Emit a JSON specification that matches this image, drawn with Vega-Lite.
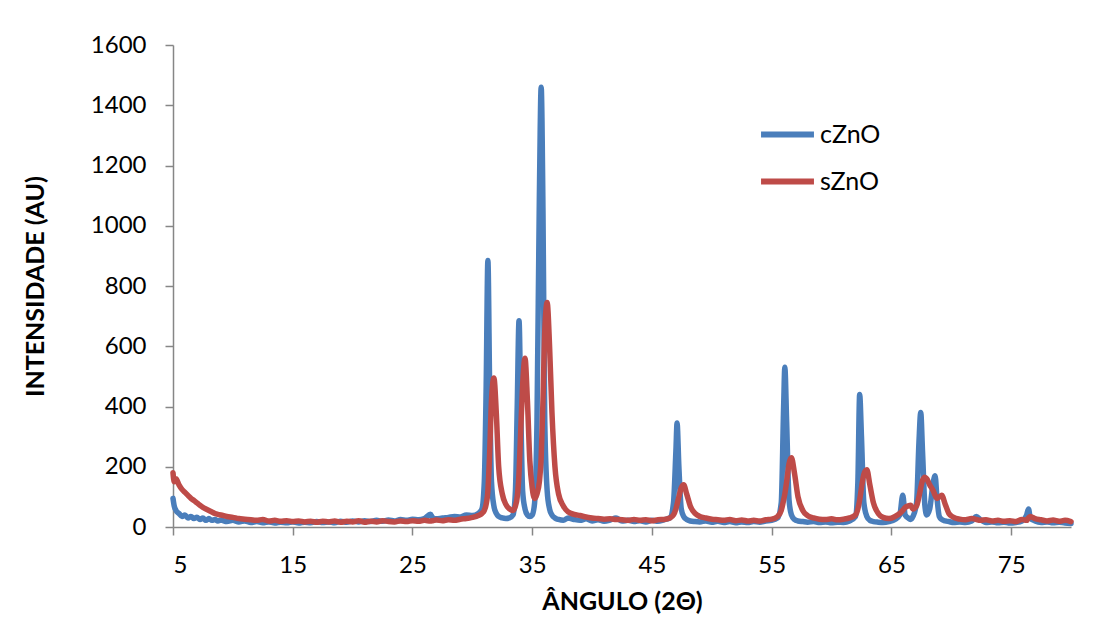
{
"$schema": "https://vega.github.io/schema/vega-lite/v6.json",
"autosize": "none",
"width": 898,
"height": 482,
"padding": {"left": 173, "top": 45, "right": 32, "bottom": 97},
"background": "white",
"config": {"view": {"stroke": null}, "font": "Lato"},
"data": {"values": [
{"x":5.0,"cZnO":95,"sZnO":180},{"x":5.1,"cZnO":70,"sZnO":150},{"x":5.25,"cZnO":55,"sZnO":160},{"x":5.5,"cZnO":45,"sZnO":140},{"x":5.75,"cZnO":35,"sZnO":125},{"x":6.0,"cZnO":40,"sZnO":115},{"x":6.25,"cZnO":30,"sZnO":105},{"x":6.5,"cZnO":35,"sZnO":95},{"x":6.75,"cZnO":28,"sZnO":88},{"x":7.0,"cZnO":32,"sZnO":80},{"x":7.25,"cZnO":25,"sZnO":72},{"x":7.5,"cZnO":30,"sZnO":65},{"x":7.75,"cZnO":22,"sZnO":60},{"x":8.0,"cZnO":28,"sZnO":55},{"x":8.25,"cZnO":22,"sZnO":50},{"x":8.5,"cZnO":25,"sZnO":45},{"x":8.75,"cZnO":20,"sZnO":42},{"x":9.0,"cZnO":23,"sZnO":40},{"x":9.5,"cZnO":18,"sZnO":35},{"x":10.0,"cZnO":22,"sZnO":32},{"x":10.5,"cZnO":17,"sZnO":28},{"x":11,"cZnO":20,"sZnO":26},{"x":11.5,"cZnO":15,"sZnO":24},{"x":12,"cZnO":18,"sZnO":22},{"x":12.5,"cZnO":14,"sZnO":25},{"x":13,"cZnO":17,"sZnO":20},{"x":13.5,"cZnO":13,"sZnO":22},{"x":14,"cZnO":16,"sZnO":19},{"x":14.5,"cZnO":14,"sZnO":21},{"x":15,"cZnO":17,"sZnO":18},{"x":15.5,"cZnO":13,"sZnO":20},{"x":16,"cZnO":16,"sZnO":17},{"x":16.5,"cZnO":14,"sZnO":19},{"x":17,"cZnO":18,"sZnO":16},{"x":17.5,"cZnO":15,"sZnO":19},{"x":18,"cZnO":17,"sZnO":17},{"x":18.5,"cZnO":14,"sZnO":20},{"x":19,"cZnO":19,"sZnO":16},{"x":19.5,"cZnO":16,"sZnO":19},{"x":20,"cZnO":20,"sZnO":17},{"x":20.5,"cZnO":17,"sZnO":21},{"x":21,"cZnO":21,"sZnO":16},{"x":21.5,"cZnO":18,"sZnO":19},{"x":22,"cZnO":22,"sZnO":17},{"x":22.5,"cZnO":19,"sZnO":21},{"x":23,"cZnO":23,"sZnO":18},{"x":23.5,"cZnO":20,"sZnO":17},{"x":24,"cZnO":25,"sZnO":20},{"x":24.5,"cZnO":22,"sZnO":18},{"x":25,"cZnO":26,"sZnO":21},{"x":25.5,"cZnO":24,"sZnO":19},{"x":26,"cZnO":28,"sZnO":22},{"x":26.5,"cZnO":42,"sZnO":20},{"x":26.7,"cZnO":30,"sZnO":21},{"x":27,"cZnO":27,"sZnO":23},{"x":27.5,"cZnO":30,"sZnO":21},{"x":28,"cZnO":32,"sZnO":24},{"x":28.5,"cZnO":35,"sZnO":22},{"x":29,"cZnO":33,"sZnO":26},{"x":29.5,"cZnO":40,"sZnO":28},{"x":30,"cZnO":38,"sZnO":32},{"x":30.5,"cZnO":45,"sZnO":38},{"x":30.8,"cZnO":60,"sZnO":45},{"x":31.0,"cZnO":150,"sZnO":55},{"x":31.15,"cZnO":450,"sZnO":75},{"x":31.3,"cZnO":885,"sZnO":120},{"x":31.45,"cZnO":450,"sZnO":250},{"x":31.6,"cZnO":150,"sZnO":420},{"x":31.8,"cZnO":70,"sZnO":495},{"x":32.0,"cZnO":45,"sZnO":380},{"x":32.2,"cZnO":35,"sZnO":200},{"x":32.5,"cZnO":30,"sZnO":110},{"x":32.8,"cZnO":28,"sZnO":75},{"x":33.1,"cZnO":30,"sZnO":60},{"x":33.4,"cZnO":40,"sZnO":55},{"x":33.6,"cZnO":120,"sZnO":70},{"x":33.75,"cZnO":400,"sZnO":100},{"x":33.9,"cZnO":685,"sZnO":180},{"x":34.05,"cZnO":380,"sZnO":330},{"x":34.2,"cZnO":120,"sZnO":470},{"x":34.4,"cZnO":60,"sZnO":560},{"x":34.6,"cZnO":40,"sZnO":420},{"x":34.8,"cZnO":35,"sZnO":220},{"x":35.0,"cZnO":40,"sZnO":130},{"x":35.2,"cZnO":80,"sZnO":95},{"x":35.4,"cZnO":350,"sZnO":110},{"x":35.6,"cZnO":1100,"sZnO":150},{"x":35.75,"cZnO":1460,"sZnO":230},{"x":35.9,"cZnO":1050,"sZnO":420},{"x":36.05,"cZnO":350,"sZnO":650},{"x":36.25,"cZnO":120,"sZnO":745},{"x":36.45,"cZnO":60,"sZnO":600},{"x":36.65,"cZnO":40,"sZnO":380},{"x":36.9,"cZnO":30,"sZnO":200},{"x":37.2,"cZnO":25,"sZnO":110},{"x":37.6,"cZnO":22,"sZnO":70},{"x":38.0,"cZnO":30,"sZnO":50},{"x":38.5,"cZnO":25,"sZnO":42},{"x":39,"cZnO":22,"sZnO":38},{"x":39.5,"cZnO":27,"sZnO":33},{"x":40,"cZnO":20,"sZnO":30},{"x":40.5,"cZnO":24,"sZnO":28},{"x":41,"cZnO":19,"sZnO":26},{"x":41.5,"cZnO":23,"sZnO":27},{"x":42,"cZnO":30,"sZnO":25},{"x":42.5,"cZnO":20,"sZnO":24},{"x":43,"cZnO":22,"sZnO":22},{"x":43.5,"cZnO":18,"sZnO":25},{"x":44,"cZnO":21,"sZnO":22},{"x":44.5,"cZnO":17,"sZnO":24},{"x":45,"cZnO":22,"sZnO":21},{"x":45.5,"cZnO":19,"sZnO":24},{"x":46,"cZnO":24,"sZnO":25},{"x":46.5,"cZnO":30,"sZnO":30},{"x":46.8,"cZnO":80,"sZnO":40},{"x":47.0,"cZnO":250,"sZnO":60},{"x":47.1,"cZnO":345,"sZnO":75},{"x":47.25,"cZnO":200,"sZnO":100},{"x":47.45,"cZnO":60,"sZnO":130},{"x":47.65,"cZnO":35,"sZnO":140},{"x":47.9,"cZnO":25,"sZnO":110},{"x":48.2,"cZnO":20,"sZnO":70},{"x":48.6,"cZnO":18,"sZnO":45},{"x":49,"cZnO":17,"sZnO":35},{"x":49.5,"cZnO":20,"sZnO":30},{"x":50,"cZnO":16,"sZnO":26},{"x":50.5,"cZnO":19,"sZnO":24},{"x":51,"cZnO":15,"sZnO":22},{"x":51.5,"cZnO":18,"sZnO":25},{"x":52,"cZnO":14,"sZnO":21},{"x":52.5,"cZnO":17,"sZnO":23},{"x":53,"cZnO":15,"sZnO":20},{"x":53.5,"cZnO":18,"sZnO":22},{"x":54,"cZnO":16,"sZnO":20},{"x":54.5,"cZnO":20,"sZnO":24},{"x":55,"cZnO":22,"sZnO":26},{"x":55.5,"cZnO":30,"sZnO":35},{"x":55.8,"cZnO":80,"sZnO":55},{"x":56.0,"cZnO":400,"sZnO":90},{"x":56.1,"cZnO":530,"sZnO":110},{"x":56.25,"cZnO":350,"sZnO":150},{"x":56.45,"cZnO":90,"sZnO":210},{"x":56.65,"cZnO":40,"sZnO":230},{"x":56.9,"cZnO":25,"sZnO":180},{"x":57.2,"cZnO":20,"sZnO":100},{"x":57.6,"cZnO":18,"sZnO":55},{"x":58,"cZnO":16,"sZnO":38},{"x":58.5,"cZnO":18,"sZnO":30},{"x":59,"cZnO":15,"sZnO":26},{"x":59.5,"cZnO":17,"sZnO":25},{"x":60,"cZnO":14,"sZnO":27},{"x":60.5,"cZnO":16,"sZnO":24},{"x":61,"cZnO":15,"sZnO":26},{"x":61.5,"cZnO":20,"sZnO":30},{"x":62.0,"cZnO":35,"sZnO":40},{"x":62.2,"cZnO":150,"sZnO":60},{"x":62.35,"cZnO":440,"sZnO":90},{"x":62.5,"cZnO":300,"sZnO":130},{"x":62.7,"cZnO":80,"sZnO":175},{"x":62.95,"cZnO":35,"sZnO":190},{"x":63.2,"cZnO":22,"sZnO":140},{"x":63.5,"cZnO":18,"sZnO":80},{"x":63.9,"cZnO":16,"sZnO":45},{"x":64.3,"cZnO":15,"sZnO":32},{"x":64.8,"cZnO":18,"sZnO":28},{"x":65.3,"cZnO":25,"sZnO":35},{"x":65.7,"cZnO":40,"sZnO":45},{"x":65.95,"cZnO":105,"sZnO":55},{"x":66.15,"cZnO":40,"sZnO":65},{"x":66.4,"cZnO":30,"sZnO":70},{"x":66.6,"cZnO":25,"sZnO":72},{"x":66.8,"cZnO":35,"sZnO":60},{"x":67.1,"cZnO":80,"sZnO":70},{"x":67.3,"cZnO":280,"sZnO":100},{"x":67.45,"cZnO":380,"sZnO":130},{"x":67.6,"cZnO":250,"sZnO":155},{"x":67.8,"cZnO":70,"sZnO":165},{"x":67.95,"cZnO":40,"sZnO":160},{"x":68.2,"cZnO":60,"sZnO":140},{"x":68.5,"cZnO":150,"sZnO":120},{"x":68.65,"cZnO":170,"sZnO":105},{"x":68.8,"cZnO":100,"sZnO":95},{"x":69.0,"cZnO":35,"sZnO":100},{"x":69.2,"cZnO":25,"sZnO":105},{"x":69.5,"cZnO":20,"sZnO":75},{"x":69.8,"cZnO":18,"sZnO":45},{"x":70.2,"cZnO":15,"sZnO":32},{"x":70.7,"cZnO":17,"sZnO":26},{"x":71.2,"cZnO":15,"sZnO":24},{"x":71.7,"cZnO":20,"sZnO":28},{"x":72.1,"cZnO":35,"sZnO":25},{"x":72.4,"cZnO":25,"sZnO":22},{"x":72.9,"cZnO":15,"sZnO":24},{"x":73.4,"cZnO":17,"sZnO":20},{"x":73.9,"cZnO":14,"sZnO":22},{"x":74.4,"cZnO":16,"sZnO":19},{"x":74.9,"cZnO":13,"sZnO":21},{"x":75.4,"cZnO":15,"sZnO":18},{"x":75.9,"cZnO":20,"sZnO":25},{"x":76.3,"cZnO":40,"sZnO":22},{"x":76.45,"cZnO":60,"sZnO":30},{"x":76.6,"cZnO":30,"sZnO":35},{"x":77,"cZnO":20,"sZnO":28},{"x":77.5,"cZnO":15,"sZnO":24},{"x":78,"cZnO":17,"sZnO":20},{"x":78.5,"cZnO":14,"sZnO":23},{"x":79,"cZnO":16,"sZnO":19},{"x":79.5,"cZnO":13,"sZnO":22},{"x":80,"cZnO":12,"sZnO":18}
]},
"transform": [{"fold": ["cZnO", "sZnO"], "as": ["series", "intensity"]}],
"mark": {"type": "line", "strokeWidth": 5.5, "strokeCap": "round", "strokeJoin": "round", "interpolate": "monotone"},
"encoding": {
  "x": {"field": "x", "type": "quantitative",
    "scale": {"domain": [5, 80], "nice": false, "zero": false},
    "axis": {"title": "ÂNGULO (2Θ)", "values": [5, 15, 25, 35, 45, 55, 65, 75], "grid": false,
      "domainColor": "#868686", "tickColor": "#868686", "tickSize": 8, "domainWidth": 1.5, "tickWidth": 1.5,
      "labelFont": "Lato", "labelFontSize": 24, "labelColor": "#000000", "labelPadding": 18,
      "titleFont": "Lato", "titleFontSize": 25, "titleFontWeight": "bold", "titleColor": "#000000", "titlePadding": 12}},
  "y": {"field": "intensity", "type": "quantitative",
    "scale": {"domain": [0, 1600], "nice": false},
    "axis": {"title": "INTENSIDADE (AU)", "values": [0, 200, 400, 600, 800, 1000, 1200, 1400, 1600], "grid": false, "format": "d",
      "domainColor": "#868686", "tickColor": "#868686", "tickSize": 8, "domainWidth": 1.5, "tickWidth": 1.5,
      "labelFont": "Lato", "labelFontSize": 24, "labelColor": "#000000", "labelPadding": 19,
      "titleFont": "Lato", "titleFontSize": 25, "titleFontWeight": "bold", "titleColor": "#000000", "titlePadding": 42}},
  "color": {"field": "series", "type": "nominal",
    "scale": {"domain": ["cZnO", "sZnO"], "range": ["#4A7EBB", "#BE4B48"]},
    "legend": {"title": null, "orient": "none", "legendX": 585, "legendY": 60,
      "symbolType": "stroke", "symbolSize": 2800, "symbolStrokeWidth": 6,
      "labelFont": "Lato", "labelFontSize": 25, "labelColor": "#000000", "labelOffset": 3, "rowPadding": 4}}
}
}
